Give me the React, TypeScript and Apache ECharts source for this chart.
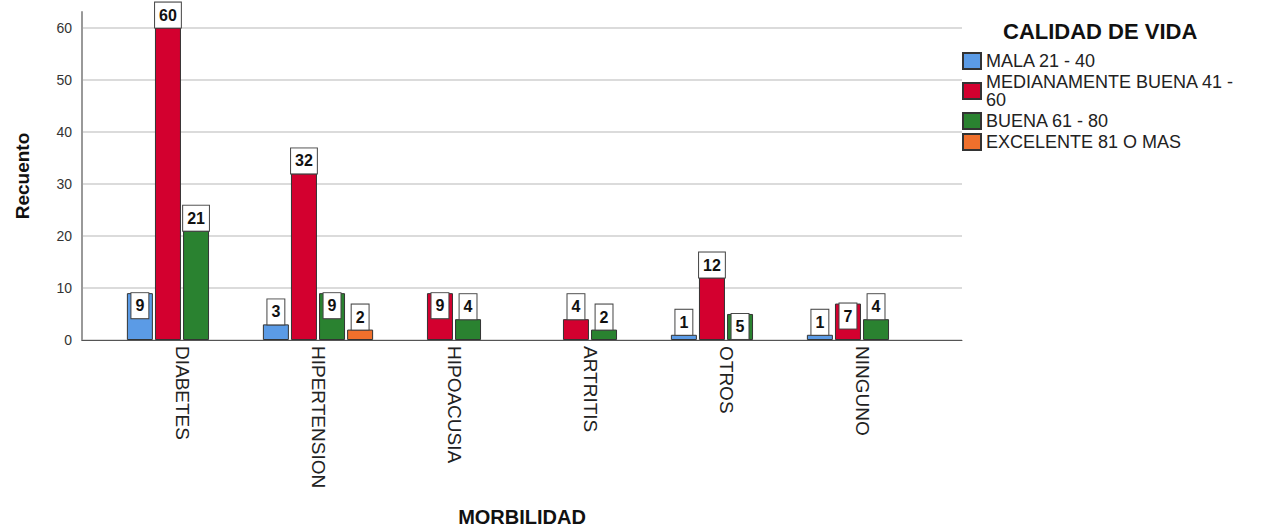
import React, { useEffect, useRef } from "react";
import * as echarts from "echarts";

const categories = ["DIABETES", "HIPERTENSION", "HIPOACUSIA", "ARTRITIS", "OTROS", "NINGUNO"];
const seriesNames = ["MALA 21 - 40", "MEDIANAMENTE BUENA 41 - 60", "BUENA 61 - 80", "EXCELENTE 81 O MAS"];
const mala = [9, 3, null, null, 1, 1];
const mediana = [60, 32, 9, 4, 12, 7];
const buena = [21, 9, 4, 2, 5, 4];
const excelente = [null, 2, null, null, null, null];
const yTicks = [0, 10, 20, 30, 40, 50, 60];

// labels that SPSS drew inside the bar top (series index, category index)
const insideLabels = [
  [0, 0],
  [2, 1],
  [1, 2],
  [2, 4],
  [1, 5],
];

const colors = ["#5b9be6", "#d3002f", "#2a8230", "#f0702c"];
const FONT = "'Liberation Sans', Arial, sans-serif";

export default function App() {
  const ref = useRef<HTMLDivElement>(null);
  useEffect(() => {
    if (!ref.current) return;
    const chart = echarts.init(ref.current, null, { renderer: "svg" });
    const allValues = [mala, mediana, buena, excelente];
    const series = allValues.map((vals, si) => ({
      name: seriesNames[si],
      type: "bar",
      xAxisIndex: 1,
      yAxisIndex: 1,
      barWidth: 26,
      barGap: "8%",
      itemStyle: { color: colors[si], borderColor: "#333", borderWidth: 1 },
      data: vals.map((v, ci) => {
        const inside = insideLabels.some((p) => p[0] === si && p[1] === ci);
        return {
          value: v,
          label: { position: inside ? "insideTop" : "top" },
        };
      }),
      label: {
        show: true,
        distance: 0,
        fontFamily: FONT,
        fontWeight: "bold",
        fontSize: 16,
        lineHeight: 19,
        color: "#111",
        backgroundColor: "#fff",
        borderColor: "#444",
        borderWidth: 1,
        padding: [3, 4, 3, 4],
      },
    }));

    chart.setOption({
      animation: false,
      textStyle: { fontFamily: FONT },
      title: {
        text: "CALIDAD DE VIDA",
        left: 1003,
        top: 20,
        padding: 0,
        textStyle: { fontFamily: FONT, fontWeight: "bold", fontSize: 22, color: "#111" },
      },
      legend: {
        orient: "vertical",
        left: 962,
        top: 52,
        padding: 0,
        itemWidth: 18,
        itemHeight: 16,
        itemGap: 3,
        icon: "rect",
        selectedMode: false,
        data: seriesNames,
        formatter: (n: string) => n.replace("41 - 60", "41 -\n60"),
        textStyle: { fontFamily: FONT, fontSize: 18, lineHeight: 18, color: "#222" },
      },
      grid: [
        { left: 82, right: 299, top: 12, bottom: 187, outerBoundsMode: "none", containLabel: false },
        { left: 114, right: 331, top: 12, bottom: 187, outerBoundsMode: "none", containLabel: false },
      ],
      xAxis: [
        {
          gridIndex: 0,
          type: "value",
          min: 0,
          max: 1,
          name: "MORBILIDAD",
          nameLocation: "middle",
          nameGap: 167,
          nameTextStyle: { fontFamily: FONT, fontWeight: "bold", fontSize: 20, color: "#111" },
          axisLine: { show: true, lineStyle: { color: "#555", width: 1 } },
          axisTick: { show: false },
          axisLabel: { show: false },
          splitLine: { show: false },
        },
        {
          gridIndex: 1,
          type: "category",
          data: categories,
          axisLine: { show: false },
          axisTick: { show: false },
          axisLabel: {
            rotate: -90,
            margin: 6,
            fontFamily: FONT,
            fontSize: 19,
            color: "#222",
          },
        },
      ],
      yAxis: [
        {
          gridIndex: 0,
          type: "value",
          min: 0,
          max: 63,
          interval: 10,
          name: "Recuento",
          nameLocation: "middle",
          nameGap: 50,
          nameTextStyle: { fontFamily: FONT, fontWeight: "bold", fontSize: 19, color: "#111" },
          axisLine: { show: true, lineStyle: { color: "#999", width: 2 } },
          axisTick: { show: false },
          axisLabel: {
            showMaxLabel: false,
            margin: 10,
            fontFamily: FONT,
            fontSize: 14,
            color: "#333",
            formatter: (v: number) => (yTicks.indexOf(v) >= 0 ? String(v) : ""),
          },
          splitLine: { show: true, showMaxLine: false, lineStyle: { color: "#cfcfcf", width: 1.5 } },
        },
        {
          gridIndex: 1,
          type: "value",
          min: 0,
          max: 63,
          show: false,
          splitLine: { show: false },
        },
      ],
      series,
    });
    return () => chart.dispose();
  }, []);
  return (
    <div
      ref={ref}
      style={{ position: "fixed", left: 0, top: 0, width: 1261, height: 527, background: "#fff" }}
    />
  );
}
